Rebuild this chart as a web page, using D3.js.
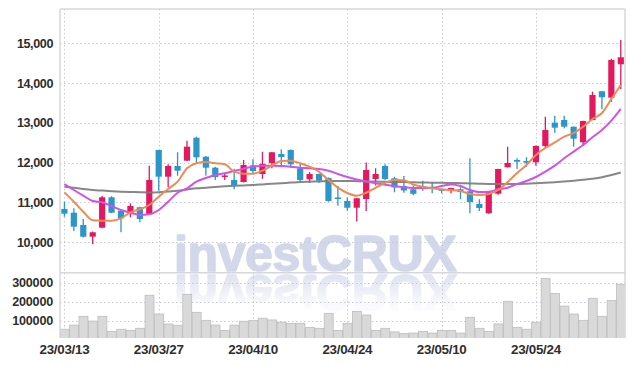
<!DOCTYPE html>
<html>
<head>
<meta charset="utf-8">
<script src="https://cdn.jsdelivr.net/npm/d3@7"></script>
<style>
  html, body { margin: 0; padding: 0; background: #fff; }
  svg { display: block; }
  .axis text { font-family: "Liberation Sans", Arial, sans-serif; font-weight: bold; fill: #2e2e2e; }
</style>
</head>
<body>
<svg id="chart" width="634" height="366"></svg>
<script>
const dates = [
  '23/03/13', '23/03/14', '23/03/15', '23/03/16', '23/03/17', '23/03/20', '23/03/21', '23/03/22', '23/03/23', '23/03/24',
  '23/03/27', '23/03/28', '23/03/29', '23/03/30', '23/03/31', '23/04/03', '23/04/04', '23/04/05', '23/04/06', '23/04/07',
  '23/04/10', '23/04/11', '23/04/12', '23/04/13', '23/04/14', '23/04/17', '23/04/18', '23/04/19', '23/04/20', '23/04/21',
  '23/04/24', '23/04/25', '23/04/26', '23/04/27', '23/04/28', '23/05/02', '23/05/03', '23/05/04', '23/05/08', '23/05/09',
  '23/05/10', '23/05/11', '23/05/12', '23/05/15', '23/05/16', '23/05/17', '23/05/18', '23/05/19', '23/05/22', '23/05/23',
  '23/05/24', '23/05/25', '23/05/26', '23/05/30', '23/05/31', '23/06/01', '23/06/02', '23/06/05', '23/06/07', '23/06/08'
];
const tickDates = ['23/03/13', '23/03/27', '23/04/10', '23/04/24', '23/05/10', '23/05/24'];
const priceTicks = [10000, 11000, 12000, 13000, 14000, 15000];
const volumeTicks = [100000, 200000, 300000];

const open = [
  10837, 10744, 10435, 10141, 10367, 11131, 10794, 10729, 10880, 10704,
  12320, 11649, 11917, 12051, 12628, 12151, 11875, 11654, 11566, 11515,
  11935, 11716, 11993, 12219, 12320, 11860, 11583, 11716, 11616, 11126,
  11038, 10869, 11088, 11591, 11917, 11608, 11415, 11332, 11415, 11397,
  11332, 11297, 11332, 11282, 10963, 10729, 11221, 11885, 12068, 12043,
  12010, 12420, 13006, 13073, 12905, 12513, 13073, 13795, 13634, 14473
];
const high = [
  11020, 10854, 10586, 10270, 11164, 11160, 10800, 10980, 10890, 11925,
  12320, 11960, 12262, 12553, 12654, 12169, 11900, 11734, 11850, 12068,
  12086, 12277, 12270, 12337, 12330, 11968, 11767, 11730, 11630, 11415,
  11126, 11115, 12005, 11860, 11960, 11649, 11666, 11427, 11548, 11515,
  11357, 11370, 11382, 12111, 11081, 11265, 11850, 12402, 12111, 12136,
  12430, 13156, 13181, 13181, 12910, 13055, 13785, 13800, 14614, 15084
];
const low = [
  10643, 10284, 10120, 9950, 10350, 10730, 10251, 10628, 10503, 10690,
  11297, 11382, 11674, 12040, 11968, 11674, 11566, 11566, 11332, 11505,
  11734, 11598, 11860, 11885, 11875, 11498, 11498, 11498, 11020, 10920,
  10794, 10523, 10787, 11427, 11566, 11257, 11246, 11184, 11297, 11231,
  11231, 11231, 11081, 10729, 10787, 10720, 11196, 11880, 11842, 11900,
  11925, 12362, 12754, 12865, 12402, 12420, 13065, 13342, 13533, 13852
];
const close = [
  10719, 10392, 10141, 10251, 11131, 10744, 10603, 10912, 10586, 11566,
  11649, 11917, 11799, 12403, 12136, 11875, 11641, 11679, 11432, 11943,
  11792, 11968, 12262, 12144, 11960, 11566, 11716, 11548, 11038, 11088,
  10869, 11106, 11817, 11716, 11591, 11377, 11302, 11219, 11382, 11365,
  11297, 11365, 11264, 11013, 10862, 11257, 11842, 11993, 12025, 12000,
  12420, 12822, 12880, 12905, 12603, 13048, 13702, 13644, 14581, 14649
];
const volume = [
  55000, 77000, 123000, 98000, 123000, 44000, 55000, 49000, 60000, 234000,
  135000, 83000, 76000, 239000, 144000, 102000, 77000, 49000, 77000, 97000,
  102000, 113000, 104000, 92000, 86000, 86000, 65000, 60000, 139000, 49000,
  86000, 149000, 130000, 49000, 60000, 41000, 32000, 35000, 44000, 35000,
  49000, 49000, 35000, 118000, 60000, 44000, 83000, 202000, 65000, 55000,
  92000, 323000, 244000, 177000, 135000, 102000, 218000, 123000, 207000, 292000
];
// moving averages
const ma5 = [
  11256, 11020, 10769, 10553, 10543, 10543, 10603, 10754, 10829, 10937,
  11146, 11339, 11523, 11860, 11985, 12018, 11985, 11960, 11774, 11724,
  11724, 11799, 11925, 12043, 12051, 11985, 11900, 11774, 11566, 11372,
  11239, 11169, 11244, 11370, 11490, 11566, 11558, 11453, 11397, 11357,
  11332, 11314, 11289, 11214, 11189, 11214, 11314, 11515, 11741, 11942,
  12194, 12370, 12508, 12654, 12747, 12905, 13098, 13249, 13601, 13953
];
const ma20 = [
  11465, 11314, 11171, 11038, 11005, 10912, 10812, 10744, 10686, 10704,
  10812, 11020, 11246, 11357, 11523, 11616, 11691, 11734, 11792, 11850,
  11900, 11925, 11925, 11917, 11900, 11875, 11860, 11842, 11799, 11716,
  11641, 11578, 11528, 11483, 11448, 11415, 11382, 11365, 11365, 11365,
  11415, 11453, 11415, 11314, 11264, 11272, 11332, 11372, 11465, 11540,
  11641, 11774, 11925, 12111, 12277, 12445, 12639, 12822, 13056, 13350
];
const ma60 = [
  11397, 11370, 11339, 11314, 11299, 11284, 11272, 11264, 11257, 11252,
  11257, 11277, 11297, 11327, 11357, 11372, 11390, 11407, 11420, 11430,
  11440, 11455, 11470, 11485, 11500, 11515, 11523, 11530, 11535, 11540,
  11540, 11535, 11530, 11525, 11520, 11515, 11513, 11508, 11503, 11498,
  11495, 11490, 11485, 11478, 11470, 11465, 11463, 11463, 11465, 11473,
  11483, 11495, 11510, 11528, 11548, 11571, 11596, 11633, 11691, 11754
];

const plotLeft = 60, plotRight = 625, plotTop = 9, plotSplit = 272.7, plotBottom = 338;
const upColor = '#e2195f', downColor = '#2b96c9';
const gridColor = '#c6c9da', frameColor = '#d6d6de';

const svg = d3.select('#chart');

const x = d3.scaleBand().domain(dates).range([59.7, 625.5]).padding(0);
const cx = (i) => x(dates[i]) + x.bandwidth() / 2;
const y = d3.scaleLinear().domain([9236, 15862]).range([plotSplit, plotTop]);
const yVol = d3.scaleLinear().domain([0, 352600]).range([339.7, plotSplit]);

const defs = svg.append('defs');
defs.append('clipPath').attr('id', 'clipPrice')
  .append('rect').attr('x', plotLeft).attr('y', plotTop)
  .attr('width', plotRight - plotLeft).attr('height', plotSplit - plotTop);
defs.append('clipPath').attr('id', 'clipVol')
  .append('rect').attr('x', plotLeft).attr('y', plotSplit)
  .attr('width', plotRight - plotLeft).attr('height', plotBottom - plotSplit);
const fade = defs.append('linearGradient').attr('id', 'fade')
  .attr('gradientUnits', 'userSpaceOnUse')
  .attr('x1', 0).attr('x2', 0).attr('y1', plotSplit).attr('y2', plotSplit + 34);
fade.append('stop').attr('offset', 0).attr('stop-color', '#fff').attr('stop-opacity', 0.75);
fade.append('stop').attr('offset', 1).attr('stop-color', '#fff').attr('stop-opacity', 0.1);
defs.append('mask').attr('id', 'fadeMask')
  .append('rect').attr('x', plotLeft).attr('y', plotSplit)
  .attr('width', plotRight - plotLeft).attr('height', plotBottom - plotSplit)
  .attr('fill', 'url(#fade)');

// watermark + reflection
svg.append('text')
  .attr('id', 'mark')
  .attr('x', 174).attr('y', 270.5)
  .attr('font-family', '"Liberation Sans", Arial, sans-serif')
  .attr('font-weight', 'bold').attr('font-size', 50)
  .attr('letter-spacing', -0.4)
  .attr('fill', '#d2d8ea')
  .attr('stroke', '#d2d8ea').attr('stroke-width', 1.6)
  .attr('stroke-linejoin', 'round')
  .text('investCRUX');
svg.append('g').attr('clip-path', 'url(#clipVol)').attr('mask', 'url(#fadeMask)')
  .append('use')
  .attr('href', '#mark')
  .attr('transform', `translate(0,${2 * plotSplit}) scale(1,-1)`);

// gridlines
const grid = svg.append('g')
  .attr('stroke', gridColor).attr('stroke-width', 1).attr('stroke-dasharray', '1.5,2.5');
grid.selectAll('.hp').data(priceTicks).join('line')
  .attr('x1', plotLeft).attr('x2', plotRight)
  .attr('y1', (d) => Math.round(y(d)) + 0.5).attr('y2', (d) => Math.round(y(d)) + 0.5);
grid.selectAll('.hv').data(volumeTicks).join('line')
  .attr('x1', plotLeft).attr('x2', plotRight)
  .attr('y1', (d) => Math.round(yVol(d)) + 0.5).attr('y2', (d) => Math.round(yVol(d)) + 0.5);
grid.selectAll('.vx').data(tickDates).join('line')
  .attr('x1', (d) => Math.round(x(d) + x.bandwidth() / 2) + 0.5)
  .attr('x2', (d) => Math.round(x(d) + x.bandwidth() / 2) + 0.5)
  .attr('y1', plotTop).attr('y2', plotBottom);

// volume bars
svg.append('g').attr('clip-path', 'url(#clipVol)')
  .selectAll('rect').data(volume).join('rect')
  .attr('x', (d, i) => x(dates[i]) + 0.5)
  .attr('width', x.bandwidth() - 0.5)
  .attr('y', (d) => yVol(d))
  .attr('height', (d) => yVol(0) - yVol(d))
  .attr('fill', '#d9d9d9')
  .attr('stroke', '#bdbdbd')
  .attr('stroke-width', 0.8);

// candles
const candles = svg.append('g').attr('clip-path', 'url(#clipPrice)')
  .selectAll('g').data(dates).join('g')
  .attr('fill', (d, i) => close[i] >= open[i] ? upColor : downColor)
  .attr('stroke', (d, i) => close[i] >= open[i] ? upColor : downColor);
candles.append('line')
  .attr('x1', (d, i) => cx(i)).attr('x2', (d, i) => cx(i))
  .attr('y1', (d, i) => y(high[i])).attr('y2', (d, i) => y(low[i]))
  .attr('stroke-width', 1.3);
candles.append('rect')
  .attr('stroke', 'none')
  .attr('x', (d, i) => cx(i) - 3.1)
  .attr('width', 6.2)
  .attr('y', (d, i) => y(Math.max(open[i], close[i])))
  .attr('height', (d, i) => Math.max(1.5, Math.abs(y(open[i]) - y(close[i]))));

// moving averages
const line = d3.line().x((d, i) => cx(i)).y((d) => y(d)).curve(d3.curveMonotoneX);
const lines = svg.append('g').attr('clip-path', 'url(#clipPrice)').attr('fill', 'none');
lines.append('path').datum(ma60).attr('d', line)
  .attr('stroke', '#7a7a7a').attr('stroke-width', 2).attr('stroke-opacity', 0.9);
lines.append('path').datum(ma20).attr('d', line)
  .attr('stroke', '#cc55e8').attr('stroke-width', 2);
lines.append('path').datum(ma5).attr('d', line)
  .attr('stroke', '#ee8a52').attr('stroke-width', 2);

// frame
const frame = svg.append('g').attr('stroke', frameColor).attr('stroke-width', 1.5);
frame.append('line').attr('x1', plotLeft).attr('x2', plotLeft).attr('y1', plotTop).attr('y2', plotBottom);
frame.append('line').attr('x1', plotRight).attr('x2', plotRight).attr('y1', plotTop).attr('y2', plotBottom);
frame.append('line').attr('x1', plotLeft).attr('x2', plotRight).attr('y1', plotTop).attr('y2', plotTop);
frame.append('line').attr('x1', plotLeft).attr('x2', plotRight).attr('y1', plotSplit).attr('y2', plotSplit);

// axes
const yAxis = svg.append('g').attr('class', 'axis').attr('transform', `translate(${plotLeft},0)`)
  .call(d3.axisLeft(y).tickValues(priceTicks).tickFormat(d3.format(',')).tickSize(0).tickPadding(7));
const volAxis = svg.append('g').attr('class', 'axis').attr('transform', `translate(${plotLeft},0)`)
  .call(d3.axisLeft(yVol).tickValues(volumeTicks).tickFormat(d3.format('d')).tickSize(0).tickPadding(7));
const xAxis = svg.append('g').attr('class', 'axis').attr('transform', `translate(0,${plotBottom})`)
  .call(d3.axisBottom(x).tickValues(tickDates).tickSize(0).tickPadding(6));

[yAxis, volAxis, xAxis].forEach((a) => a.select('.domain').remove());
yAxis.selectAll('.tick text').attr('font-size', 12.6).attr('letter-spacing', -0.4);
volAxis.selectAll('.tick text').attr('font-size', 12.6).attr('letter-spacing', -0.2);
xAxis.selectAll('.tick text').attr('font-size', 13.4).attr('letter-spacing', -0.3);
</script>
</body>
</html>
